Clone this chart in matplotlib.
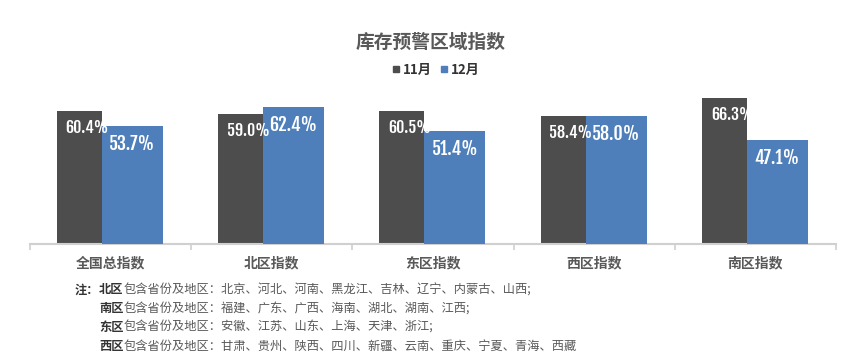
import numpy as np
import matplotlib.pyplot as plt
from matplotlib import font_manager as fm
from matplotlib.lines import Line2D

plt.rcParams['font.family'] = ['Noto Sans CJK SC', 'DejaVu Sans']

title = '库存预警区域指数'
categories = ['全国总指数', '北区指数', '东区指数', '西区指数', '南区指数']
series_names = ['11月', '12月']
nov = [60.4, 59.0, 60.5, 58.4, 66.3]
dec = [53.7, 62.4, 51.4, 58.0, 47.1]
notes = [
    ('北区', '包含省份及地区：北京、河北、河南、黑龙江、吉林、辽宁、内蒙古、山西;'),
    ('南区', '包含省份及地区：福建、广东、广西、海南、湖北、湖南、江西;'),
    ('东区', '包含省份及地区：安徽、江苏、山东、上海、天津、浙江;'),
    ('西区', '包含省份及地区：甘肃、贵州、陕西、四川、新疆、云南、重庆、宁夏、青海、西藏'),
]

c_dark = '#4d4d4d'
c_blue = '#4e7fbb'
c_text = '#595959'

# pick a condensed bold font for the value labels
installed = {f.name for f in fm.fontManager.ttflist}
num_font = 'DejaVu Sans'
for cand in ['Fjalla One', 'Anton', 'Oswald', 'IBM Plex Sans Condensed']:
    if cand in installed:
        num_font = cand
        break

fig = plt.figure(figsize=(8.65, 3.61), dpi=100)
W, H = 865, 361
ax = fig.add_axes([30 / W, (H - 244) / H, 806 / W, 154 / H])

x = np.arange(len(categories))
ax.bar(x - 0.333, nov, width=0.28, align='edge', color=c_dark, zorder=2)
ax.bar(x - 0.053, dec, width=0.378, align='edge', color=c_blue, zorder=3)

for i in range(len(x)):
    ax.text(x[i] - 0.145, nov[i] - 10.0, f'{nov[i]:.1f}%', ha='center', va='baseline',
            color='white', fontsize=11.5, fontweight='bold', family=num_font, zorder=5)
    ax.text(x[i] + 0.135, dec[i] - 10.9, f'{dec[i]:.1f}%', ha='center', va='baseline',
            color='white', fontsize=13, fontweight='bold', family=num_font, zorder=5)

ax.set_xlim(-0.5, len(x) - 0.5)
ax.set_ylim(0, 70)
ax.set_yticks([])
for s in ['top', 'right', 'left']:
    ax.spines[s].set_visible(False)
ax.spines['bottom'].set_color('#d0d0d0')
ax.spines['bottom'].set_linewidth(1.5)
ax.set_xticks(np.arange(-0.5, len(x), 1.0))
ax.set_xticklabels([])
ax.tick_params(axis='x', length=4, color='#d0d0d0', width=1.2)
for i, c in enumerate(categories):
    ax.text(x[i], -8.6, c, ha='center', va='center', fontsize=10, fontweight='bold', color=c_text)

fig.text(431 / W, 1 - 42 / H, title, ha='center', va='center', fontsize=13.5,
         fontweight='bold', color=c_text)

handles = [Line2D([], [], marker='s', linestyle='none', markersize=4.5, color=c_dark),
           Line2D([], [], marker='s', linestyle='none', markersize=4.5, color=c_blue)]
fig.legend(handles, series_names, loc='center', bbox_to_anchor=(436 / W, 1 - 70 / H),
           ncol=2, frameon=False, handlelength=0.5, handletextpad=0.25, columnspacing=0.7,
           prop={'weight': 'bold', 'size': 9.5}, labelcolor='#333333')

fig.text(75 / W, 1 - 290 / H, '注：', ha='left', va='center', fontsize=8.8,
         fontweight='bold', color='#333333')
for k, (b, rest) in enumerate(notes):
    y = 1 - (290 + k * 18.7) / H
    t = fig.text(99 / W, y, b, ha='left', va='center', fontsize=8.8,
                 fontweight='bold', color='#333333')
    ax.annotate(rest, xy=(1, 0.5), xycoords=t, ha='left', va='center',
                fontsize=8.8, color='#595959', annotation_clip=False)

fig.savefig('out.png', dpi=100)
